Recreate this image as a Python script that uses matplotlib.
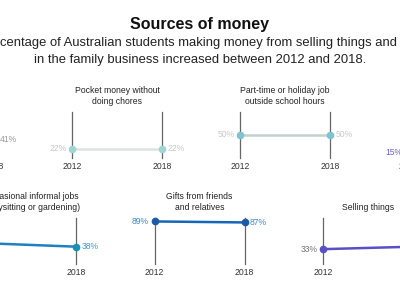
import matplotlib.pyplot as plt

plt.rcParams['font.family'] = ['Liberation Sans', 'DejaVu Sans']

years = [2012, 2018]

# top row of small panels (the chart is wider than the 400px view)
top_titles = ["Pocket money for\ndoing chores",
              "Pocket money without\ndoing chores",
              "Part-time or holiday job\noutside school hours",
              "Working in the\nfamily business"]
top_2012 = [40, 22, 50, 15]
top_2018 = [41, 22, 50, 20]
top_line_colors = ['#c4c4c4', '#dde3e3', '#c4cfd1', '#5b4fc7']
top_dot_colors = ['#c4c4c4', '#9fd6d3', '#7cc4cf', '#5b4fc7']
top_label_colors = ['#9a9a9a', '#c9c9c9', '#c9c9c9', '#6a5fd6']

# bottom row
bottom_titles = ["Occasional informal jobs\n(babysitting or gardening)",
                 "Gifts from friends\nand relatives",
                 "Selling things"]
bottom_2012 = [45, 89, 33]
bottom_2018 = [38, 87, 38]
bottom_line_colors = ['#1f7fc4', '#1666b8', '#5b4fc7']
bottom_dot_colors = ['#1a8fb8', '#1a5aa6', '#5b4fc7']
bottom_label_colors = ['#3a9ad6', '#3a8ad0', '#777777']

fig = plt.figure(figsize=(4, 3), dpi=100)
W, H = 400, 300

fig.text(0.5, 1 - 25 / H, "Sources of money", ha='center', va='center',
         fontsize=11.5, fontweight='bold', color='#111111')
fig.text(0.5, 1 - 43 / H,
         "The percentage of Australian students making money from selling things and working",
         ha='center', va='center', fontsize=9.4, color='#222222')
fig.text(0.5, 1 - 60 / H,
         "in the family business increased between 2012 and 2018.",
         ha='center', va='center', fontsize=9.4, color='#222222')


def panel(x0, ybottom, title, v12, v18, lc, dc, tc):
    ax = fig.add_axes([x0 / W, (H - ybottom) / H, 90 / W, 48 / H])
    ax.set_xlim(2012, 2018)
    ax.set_ylim(3, 100)
    ax.axis('off')
    for yr in years:
        ax.axvline(yr, ymax=0.96, color='#666666', lw=0.9, zorder=1, clip_on=False)
        ax.text(yr, -0.08, str(yr), transform=ax.get_xaxis_transform(),
                ha='center', va='top', fontsize=6.2, color='#333333')
    ax.plot(years, [v12, v18], color=lc, lw=1.8, zorder=2, clip_on=False)
    ax.plot(years, [v12, v18], 'o', color=dc, ms=4.5, zorder=3, clip_on=False)
    ax.annotate(f"{v12}%", (2012, v12), xytext=(-4, 0), textcoords='offset points',
                ha='right', va='center', fontsize=6.2, color=tc)
    ax.annotate(f"{v18}%", (2018, v18), xytext=(4, 0), textcoords='offset points',
                ha='left', va='center', fontsize=6.2, color=tc)
    ax.text(0.5, 1.08, title, transform=ax.transAxes, ha='center', va='bottom',
            fontsize=6.2, color='#222222', linespacing=1.25)


for i in range(len(top_titles)):
    panel(-96 + 168 * i, 158, top_titles[i], top_2012[i], top_2018[i],
          top_line_colors[i], top_dot_colors[i], top_label_colors[i])

for i in range(len(bottom_titles)):
    panel(-14 + 168.5 * i, 264, bottom_titles[i], bottom_2012[i], bottom_2018[i],
          bottom_line_colors[i], bottom_dot_colors[i], bottom_label_colors[i])

fig.savefig('out.png', dpi=100)
